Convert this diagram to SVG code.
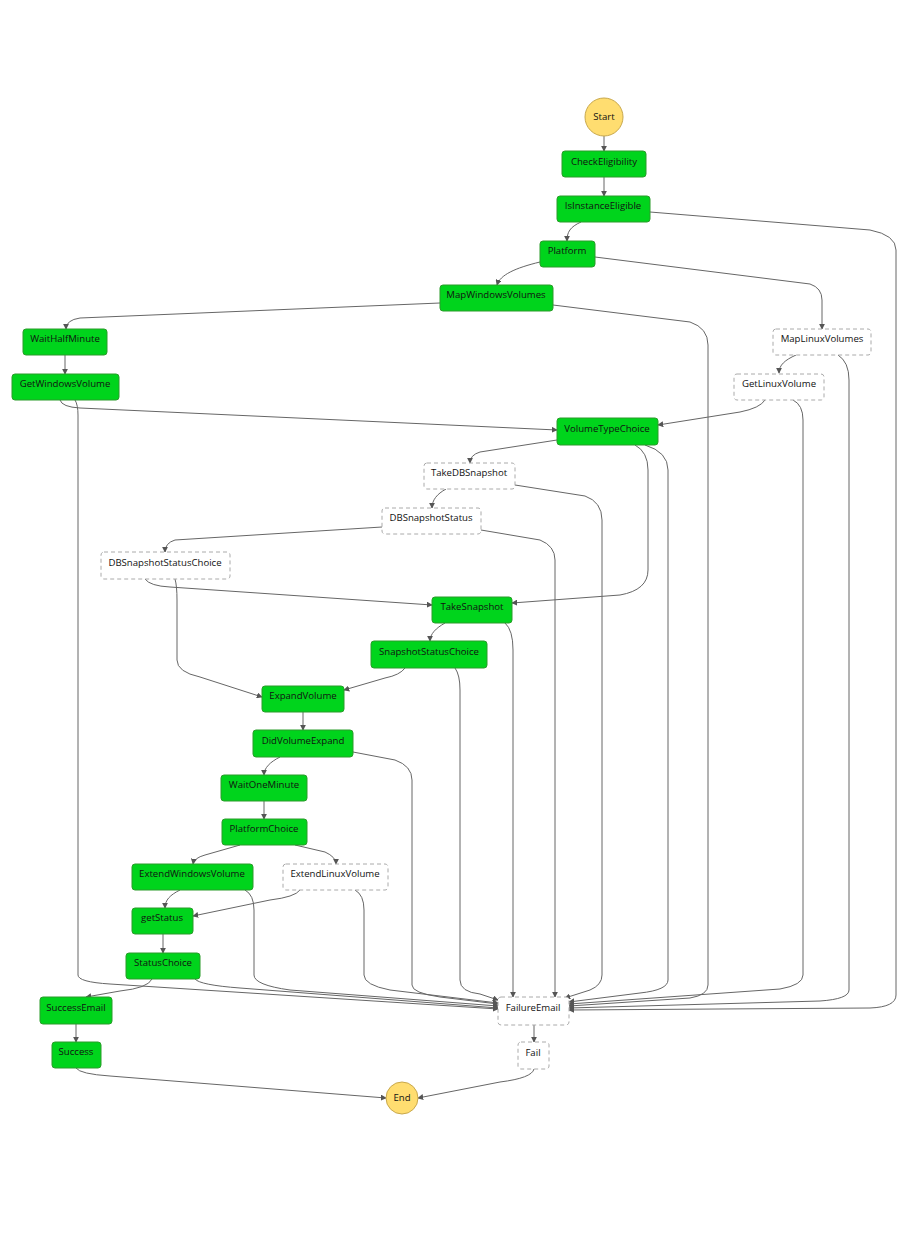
<svg xmlns="http://www.w3.org/2000/svg" width="919" height="1258" viewBox="0 0 919 1258">
<style>
.g rect{fill:#00d41c;stroke:#2a9c2a;stroke-width:1}
.w rect{fill:#fff;stroke:#aaa;stroke-width:1;stroke-dasharray:4,3}
.c circle{fill:#ffdd70;stroke:#c8a84c;stroke-width:1}
text{font-family:"Open Sans","Liberation Sans",sans-serif;font-size:9.6px;fill:#111;text-anchor:middle}
#edges path{fill:none;stroke:#666;stroke-width:1;marker-end:url(#a)}
</style>
<defs><marker id="a" viewBox="0 0 8 8" refX="7" refY="4" markerWidth="6" markerHeight="6" orient="auto"><path d="M0,0L8,4L0,8z" fill="#555"/></marker></defs>
<rect width="919" height="1258" fill="#fff"/>
<g id="edges">
<path d="M604,136V151"/>
<path d="M604,177V196"/>
<path d="M581,222C570,227 567,232 567,241"/>
<path d="M650,212L870,230Q896,235 896,250V995Q896,1007 870,1008L569,1010"/>
<path d="M540,262C515,268 500,275 497,285"/>
<path d="M595,257L810,284Q822,288 822,300V329"/>
<path d="M440,303L80,318Q66,320 66,329"/>
<path d="M553,305L690,322Q708,328 708,345V985Q708,995 690,998L569,1006"/>
<path d="M65,355V374"/>
<path d="M60,400Q62,407 80,408L557,430"/>
<path d="M75,400Q78,405 78,415V975Q78,982 110,984L498,1009"/>
<path d="M796,355C785,360 779,365 779,373"/>
<path d="M838,355Q849,362 849,380V990Q849,999 820,1001L569,1008"/>
<path d="M765,400Q760,408 740,412L658,425"/>
<path d="M793,400Q803,405 803,420V975Q803,985 780,989L569,1004"/>
<path d="M557,440L480,452Q470,455 470,463"/>
<path d="M635,445Q648,452 648,470V570Q648,590 620,595L512,603"/>
<path d="M645,445Q668,452 668,470V980Q668,990 640,993L569,1002"/>
<path d="M446,489C437,494 432,500 432,508"/>
<path d="M515,485L585,496Q602,502 602,520V975Q602,985 590,990L565,998"/>
<path d="M382,527L175,540Q165,543 165,552"/>
<path d="M481,530L540,540Q555,546 555,560V997"/>
<path d="M145,579Q150,586 170,587L432,605"/>
<path d="M175,579Q177,586 177,600V660Q177,672 200,677L262,697"/>
<path d="M445,623C436,628 430,634 430,641"/>
<path d="M505,623Q513,630 513,650V997"/>
<path d="M405,668Q400,675 385,678L344,690"/>
<path d="M455,668Q460,675 460,690V980Q460,992 480,994L498,1000"/>
<path d="M303,712V730"/>
<path d="M353,752L395,760Q412,766 412,780V985Q412,993 440,997L498,1004"/>
<path d="M280,757C270,762 264,768 264,775"/>
<path d="M264,801V819"/>
<path d="M240,845L205,855Q194,858 193,864"/>
<path d="M295,845L325,852Q336,857 336,864"/>
<path d="M180,890C170,895 165,900 165,908"/>
<path d="M245,890Q254,895 254,910V975Q254,985 290,990L498,1006"/>
<path d="M355,890Q364,895 364,910V975Q364,985 390,990L498,1003"/>
<path d="M300,890Q295,897 270,900L193,916"/>
<path d="M163,934V953"/>
<path d="M195,979Q200,985 240,988L498,1008"/>
<path d="M152,979Q148,988 120,991L86,997"/>
<path d="M76,1024V1042"/>
<path d="M76,1068Q80,1074 110,1076L386,1098"/>
<path d="M534,1025V1042"/>
<path d="M534,1069Q532,1078 500,1082L418,1098"/>
</g>
<g id="Start" class="c"><circle cx="604" cy="117" r="19"/><text x="604" y="120">Start</text></g>
<g id="CheckEligibility" class="g"><rect x="562" y="151" width="84" height="26" rx="3"/><text x="604" y="165">CheckEligibility</text></g>
<g id="IsInstanceEligible" class="g"><rect x="557" y="196" width="93" height="26" rx="3"/><text x="603" y="209">IsInstanceEligible</text></g>
<g id="Platform" class="g"><rect x="540" y="241" width="55" height="26" rx="3"/><text x="567" y="254">Platform</text></g>
<g id="MapWindowsVolumes" class="g"><rect x="440" y="285" width="113" height="26" rx="3"/><text x="496" y="298">MapWindowsVolumes</text></g>
<g id="WaitHalfMinute" class="g"><rect x="23" y="329" width="84" height="26" rx="3"/><text x="65" y="342">WaitHalfMinute</text></g>
<g id="GetWindowsVolume" class="g"><rect x="12" y="374" width="107" height="26" rx="3"/><text x="65" y="387">GetWindowsVolume</text></g>
<g id="MapLinuxVolumes" class="w"><rect x="773" y="329" width="98" height="26" rx="3"/><text x="822" y="342">MapLinuxVolumes</text></g>
<g id="GetLinuxVolume" class="w"><rect x="734" y="374" width="90" height="26" rx="3"/><text x="779" y="387">GetLinuxVolume</text></g>
<g id="VolumeTypeChoice" class="g"><rect x="557" y="418" width="101" height="27" rx="3"/><text x="607" y="432">VolumeTypeChoice</text></g>
<g id="TakeDBSnapshot" class="w"><rect x="424" y="463" width="91" height="26" rx="3"/><text x="469" y="476">TakeDBSnapshot</text></g>
<g id="DBSnapshotStatus" class="w"><rect x="382" y="508" width="99" height="26" rx="3"/><text x="431" y="521">DBSnapshotStatus</text></g>
<g id="DBSnapshotStatusChoice" class="w"><rect x="101" y="552" width="129" height="27" rx="3"/><text x="165" y="566">DBSnapshotStatusChoice</text></g>
<g id="TakeSnapshot" class="g"><rect x="432" y="597" width="80" height="26" rx="3"/><text x="472" y="610">TakeSnapshot</text></g>
<g id="SnapshotStatusChoice" class="g"><rect x="371" y="641" width="116" height="27" rx="3"/><text x="429" y="655">SnapshotStatusChoice</text></g>
<g id="ExpandVolume" class="g"><rect x="262" y="686" width="82" height="26" rx="3"/><text x="303" y="699">ExpandVolume</text></g>
<g id="DidVolumeExpand" class="g"><rect x="253" y="730" width="100" height="27" rx="3"/><text x="303" y="744">DidVolumeExpand</text></g>
<g id="WaitOneMinute" class="g"><rect x="221" y="775" width="86" height="26" rx="3"/><text x="264" y="788">WaitOneMinute</text></g>
<g id="PlatformChoice" class="g"><rect x="222" y="819" width="85" height="26" rx="3"/><text x="264" y="832">PlatformChoice</text></g>
<g id="ExtendWindowsVolume" class="g"><rect x="132" y="864" width="121" height="26" rx="3"/><text x="192" y="877">ExtendWindowsVolume</text></g>
<g id="ExtendLinuxVolume" class="w"><rect x="283" y="864" width="105" height="26" rx="3"/><text x="335" y="877">ExtendLinuxVolume</text></g>
<g id="getStatus" class="g"><rect x="132" y="908" width="61" height="26" rx="3"/><text x="162" y="921">getStatus</text></g>
<g id="StatusChoice" class="g"><rect x="126" y="953" width="74" height="26" rx="3"/><text x="163" y="966">StatusChoice</text></g>
<g id="SuccessEmail" class="g"><rect x="40" y="997" width="72" height="27" rx="3"/><text x="76" y="1011">SuccessEmail</text></g>
<g id="Success" class="g"><rect x="52" y="1042" width="49" height="26" rx="3"/><text x="76" y="1055">Success</text></g>
<g id="FailureEmail" class="w"><rect x="498" y="997" width="71" height="28" rx="3"/><text x="533" y="1011">FailureEmail</text></g>
<g id="Fail" class="w"><rect x="518" y="1042" width="31" height="27" rx="3"/><text x="533" y="1056">Fail</text></g>
<g id="End" class="c"><circle cx="402" cy="1098" r="16"/><text x="402" y="1101">End</text></g>
</svg>
